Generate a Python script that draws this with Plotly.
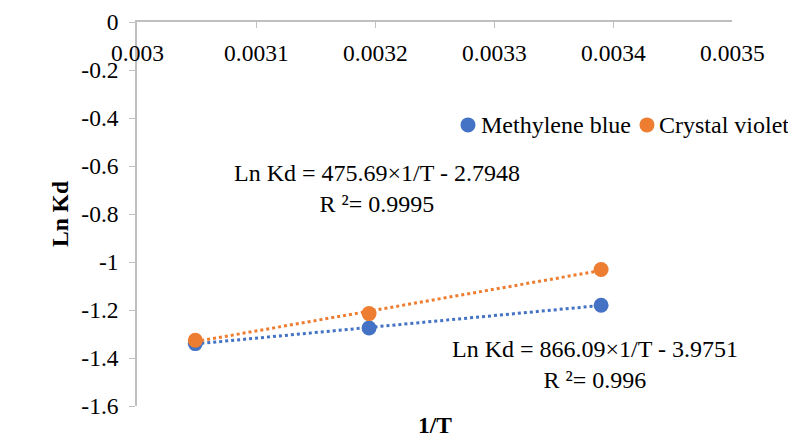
import numpy as np
import plotly.graph_objects as go

inv_T = [0.003049, 0.003195, 0.00339]
mb_lnkd = [-1.340, -1.275, -1.180]
cv_lnkd = [-1.326, -1.215, -1.031]
series_names = ["Methylene blue", "Crystal violet"]
colors = ["#4472C4", "#ED7D31"]
eq1 = "Ln Kd = 475.69×1/T - 2.7948<br>R ²= 0.9995"
eq2 = "Ln Kd = 866.09×1/T - 3.9751<br>R ²= 0.996"
x_ticks = [0.003, 0.0031, 0.0032, 0.0033, 0.0034, 0.0035]
y_ticks = [0, -0.2, -0.4, -0.6, -0.8, -1, -1.2, -1.4, -1.6]

FONT = "Liberation Serif"
FS = 23.5
fig = go.Figure()

for ys, c in zip([mb_lnkd, cv_lnkd], colors):
    m, b = np.polyfit(inv_T, ys, 1)
    xs = [min(inv_T), max(inv_T)]
    fig.add_trace(go.Scatter(x=xs, y=[m * v + b for v in xs], mode="lines",
                             line=dict(color=c, width=3, dash="dot"),
                             showlegend=False, hoverinfo="skip"))

for ys, name, c in zip([mb_lnkd, cv_lnkd], series_names, colors):
    fig.add_trace(go.Scatter(x=inv_T, y=ys, mode="markers", name=name,
                             marker=dict(color=c, size=15), showlegend=False))

# legend drawn as circle + text (Excel-style tight spacing)
leg_sym_x = [0.5563, 0.8571]
leg_txt_x = [0.5765, 0.8756]
leg_y = 0.732
for name, c, sx, tx in zip(series_names, colors, leg_sym_x, leg_txt_x):
    fig.add_shape(type="circle", xref="paper", yref="paper",
                  xsizemode="pixel", ysizemode="pixel", xanchor=sx, yanchor=leg_y,
                  x0=-7.5, x1=7.5, y0=-7.5, y1=7.5,
                  fillcolor=c, line=dict(width=0))
    fig.add_annotation(x=tx, y=leg_y, xref="paper", yref="paper", text=name,
                       showarrow=False, xanchor="left", yanchor="middle",
                       borderpad=0, font=dict(size=24, color="#000", family=FONT))

fig.add_annotation(x=0.0032017, y=-0.694, xref="x", yref="y", text=eq1,
                   showarrow=False, align="center", font=dict(size=24, color="#000", family=FONT))
fig.add_annotation(x=0.003385, y=-1.425, xref="x", yref="y", text=eq2,
                   showarrow=False, align="center", font=dict(size=24, color="#000", family=FONT))

# x tick labels sit just below the top axis line
for v in x_ticks:
    fig.add_annotation(x=v, y=1, xref="x", yref="paper", yshift=-31,
                       text=str(v), showarrow=False, yanchor="middle",
                       font=dict(size=FS, color="#000", family=FONT))

fig.update_layout(
    width=788, height=437,
    margin=dict(l=137, r=56, t=22, b=31),
    paper_bgcolor="white", plot_bgcolor="white",
    font=dict(family=FONT, size=FS, color="#000"),
    showlegend=False,
    xaxis=dict(range=[0.003, 0.0035], side="top", tickvals=x_ticks,
               showticklabels=False, automargin=False,
               ticks="inside", ticklen=6, tickcolor="#bfbfbf",
               showline=True, linecolor="#bfbfbf",
               linewidth=1.5, showgrid=False, zeroline=False),
    yaxis=dict(range=[-1.6, 0], tickvals=y_ticks,
               ticktext=[("%g" % v) for v in y_ticks], automargin=False,
               ticks="outside", ticklen=6, tickcolor="#bfbfbf",
               ticklabelstandoff=6,
               showline=True, linecolor="#bfbfbf", linewidth=1.5,
               showgrid=False, zeroline=False,
               tickfont=dict(size=FS, family=FONT)),
)
fig.add_annotation(x=0, y=0.5, xref="paper", yref="paper", xshift=-77,
                   text="<b>Ln Kd</b>", showarrow=False, textangle=-90,
                   font=dict(size=FS, family=FONT), xanchor="center", yanchor="middle")
fig.add_annotation(x=0.5, y=0, xref="paper", yref="paper", yshift=-19,
                   text="<b>1/T</b>", showarrow=False, font=dict(size=FS, family=FONT),
                   yanchor="middle")

fig.write_html("out.html", config={"displayModeBar": False},
               post_script="document.body.style.margin='0';")
